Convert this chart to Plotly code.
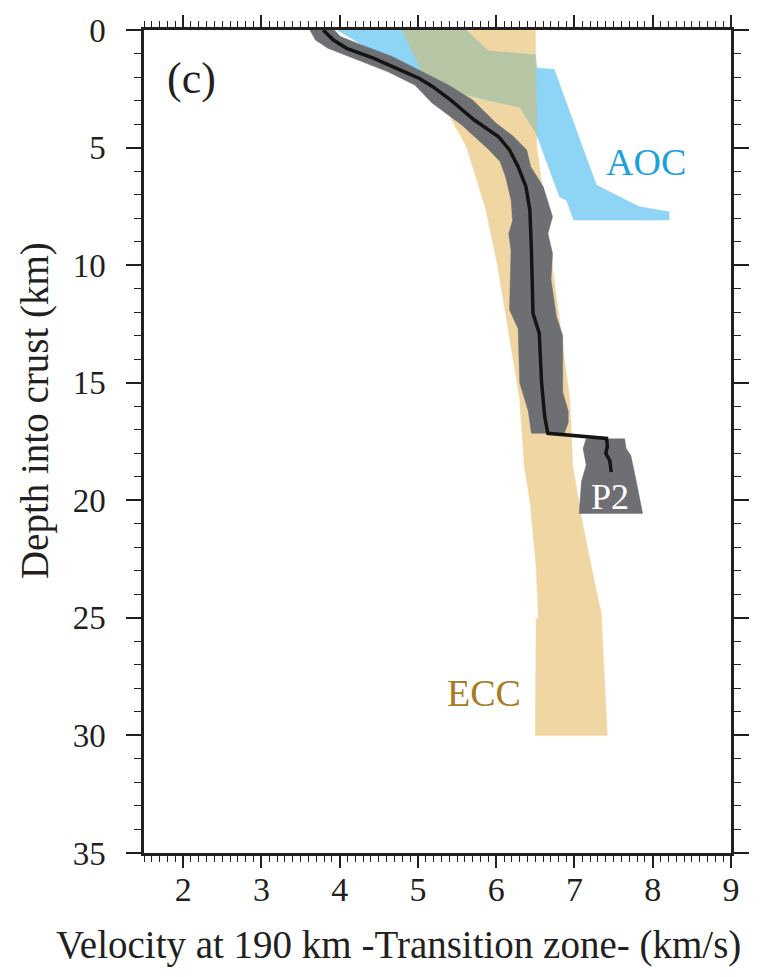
import numpy as np
import plotly.graph_objects as go

# ---------------- data (velocity km/s vs depth km) ----------------
# ECC band edges
ecc_left_depth = [0, 1.91, 3.69, 4.96, 7.66, 10.07, 15.7, 18.6, 20.0, 22.8, 25.0, 25.05, 30.0]
ecc_left_vel = [4.80, 5.07, 5.41, 5.62, 5.87, 6.02, 6.30, 6.36, 6.43, 6.51, 6.54, 6.51, 6.50]
ecc_right_depth = [0, 5.0, 15.7, 18.6, 21.1, 24.5, 24.7, 30.0]
ecc_right_vel = [6.50, 6.52, 6.94, 6.98, 7.11, 7.32, 7.34, 7.42]

# AOC band edges
aoc_left_depth = [0, 0.64, 1.91, 2.62, 2.98, 3.26, 4.39, 7.1, 7.25, 8.08]
aoc_left_vel = [3.97, 4.29, 5.07, 5.47, 5.88, 6.30, 6.51, 6.81, 6.90, 6.99]
aoc_right_depth = [0, 0.92, 1.06, 1.62, 1.67, 6.59, 7.51, 7.73, 8.08]
aoc_right_vel = [5.61, 5.91, 6.50, 6.52, 6.74, 7.28, 7.82, 8.21, 8.21]

# P1 uncertainty band
p1_left_depth = [0, 0.43, 0.78, 1.2, 1.77, 2.34, 3.1, 4.04, 5.1, 5.6, 6.24, 7.23, 8.1, 8.65,
                 9.4, 10.6, 11.9, 12.7, 15.0, 16.2, 17.15]
p1_left_vel = [3.62, 3.69, 3.85, 4.18, 4.61, 4.96, 5.18, 5.56, 5.91, 6.05, 6.12, 6.19, 6.21, 6.16,
               6.19, 6.18, 6.17, 6.28, 6.30, 6.41, 6.45]
p1_right_depth = [0, 0.28, 0.57, 1.13, 1.84, 2.34, 2.98, 3.97, 4.47, 5.1, 5.81, 6.66, 7.94, 8.65,
                  9.5, 10.6, 12.2, 13.0, 15.4, 16.2, 16.7, 17.15]
p1_right_vel = [3.93, 4.01, 4.23, 4.67, 5.10, 5.39, 5.70, 6.00, 6.20, 6.39, 6.44, 6.60, 6.72, 6.66,
                6.72, 6.70, 6.77, 6.85, 6.85, 6.92, 6.92, 6.87]

# P2 block
p2_left_depth = [17.37, 17.8, 18.5, 19.2, 20.56]
p2_left_vel = [7.15, 7.11, 7.15, 7.09, 7.06]
p2_right_depth = [17.37, 17.8, 18.1, 19.2, 20.56]
p2_right_vel = [7.64, 7.66, 7.72, 7.79, 7.87]

# best-fit velocity profile
model_depth = [0, 0.43, 0.78, 1.2, 1.7, 2.06, 2.41, 2.98, 3.83, 4.54, 5.1, 5.81, 6.66, 7.66,
               9.36, 10.6, 12.05, 12.9, 15.0, 16.45, 17.15, 17.37, 17.72, 18.0, 18.3, 18.8]
model_vel = [3.79, 3.92, 4.09, 4.43, 4.77, 5.02, 5.19, 5.42, 5.72, 6.03, 6.17, 6.28, 6.38, 6.43,
             6.45, 6.46, 6.47, 6.55, 6.58, 6.62, 6.66, 7.41, 7.42, 7.40, 7.45, 7.47]

x_ticks = [2, 3, 4, 5, 6, 7, 8, 9]
y_ticks = [0, 5, 10, 15, 20, 25, 30, 35]

# ---------------- helpers ----------------
def band(ld, lv, rd, rv):
    return list(lv) + list(rv)[::-1], list(ld) + list(rd)[::-1]

# overlap of AOC and ECC, computed from the edges
grid = np.linspace(0, max(aoc_left_depth), 1617)
lo = np.maximum(np.interp(grid, aoc_left_depth, aoc_left_vel), np.interp(grid, ecc_left_depth, ecc_left_vel))
hi = np.minimum(np.interp(grid, aoc_right_depth, aoc_right_vel), np.interp(grid, ecc_right_depth, ecc_right_vel))
m = lo < hi
ov_x = np.concatenate([lo[m], hi[m][::-1]])
ov_y = np.concatenate([grid[m], grid[m][::-1]])

C_ECC = "#F0D6A2"
C_AOC = "#8DD4F5"
C_OV = "#B6C5A3"
C_BAND = "#6E6F73"
INK = "#231f20"
FONT = "Liberation Serif"

fig = go.Figure()

def poly(x, y, color):
    fig.add_trace(go.Scatter(x=x, y=y, fill="toself", fillcolor=color, mode="lines",
                             line=dict(color=color, width=0.5), hoverinfo="skip", showlegend=False))

ex, ey = band(ecc_left_depth, ecc_left_vel, ecc_right_depth, ecc_right_vel)
poly(ex, ey, C_ECC)
ax_, ay_ = band(aoc_left_depth, aoc_left_vel, aoc_right_depth, aoc_right_vel)
poly(ax_, ay_, C_AOC)
poly(ov_x, ov_y, C_OV)
bx, by = band(p1_left_depth, p1_left_vel, p1_right_depth, p1_right_vel)
poly(bx, by, C_BAND)
px_, py_ = band(p2_left_depth, p2_left_vel, p2_right_depth, p2_right_vel)
poly(px_, py_, C_BAND)

fig.add_trace(go.Scatter(x=model_vel, y=model_depth, mode="lines",
                         line=dict(color="#141414", width=3.5), showlegend=False))

# labels
fig.add_annotation(x=2.11, y=2.05, text="(c)", showarrow=False, xref="x", yref="y",
                   font=dict(family=FONT, size=44, color=INK))
fig.add_annotation(x=7.91, y=5.6, text="AOC", showarrow=False, xref="x", yref="y",
                   font=dict(family=FONT, size=38, color="#1BA1DC"))
fig.add_annotation(x=5.85, y=28.2, text="ECC", showarrow=False, xref="x", yref="y",
                   font=dict(family=FONT, size=38, color="#A67C1E"))
fig.add_annotation(x=7.46, y=19.85, text="P2", showarrow=False, xref="x", yref="y",
                   font=dict(family=FONT, size=36, color="white"))

# axis titles
fig.add_annotation(x=0.434, y=-0.112, xref="paper", yref="paper", showarrow=False,
                   xanchor="center", yanchor="middle",
                   text="Velocity at 190 km -Transition zone- (km/s)",
                   font=dict(family=FONT, size=39, color=INK))
fig.add_annotation(x=-0.186, y=0.538, xref="paper", yref="paper", showarrow=False, textangle=-90,
                   xanchor="center", yanchor="middle",
                   text="Depth into crust (km)",
                   font=dict(family=FONT, size=39, color=INK))

fig.update_layout(
    width=778, height=977,
    margin=dict(l=144, r=47, t=30, b=124),
    paper_bgcolor="white", plot_bgcolor="white",
    font=dict(family=FONT, color=INK),
    xaxis=dict(range=[1.5, 9], tickmode="array", tickvals=x_ticks, ticktext=[str(v) for v in x_ticks],
               showgrid=False, zeroline=False, showline=True, linecolor=INK, linewidth=2.5,
               mirror="allticks", ticks="outside", ticklen=12, tickwidth=1.5, tickcolor=INK,
               ticklabelstandoff=-8, tickfont=dict(family=FONT, size=34, color=INK),
               minor=dict(dtick=0.1, tick0=1.5, ticklen=6, tickwidth=1, tickcolor=INK, ticks="outside",
                          showgrid=False)),
    yaxis=dict(range=[35, 0], tickmode="array", tickvals=y_ticks, ticktext=[str(v) for v in y_ticks],
               showgrid=False, zeroline=False, showline=True, linecolor=INK, linewidth=2.5,
               mirror="allticks", ticks="outside", ticklen=15, tickwidth=1.5, tickcolor=INK,
               ticklabelstandoff=14, tickfont=dict(family=FONT, size=33, color=INK),
               minor=dict(dtick=1, tick0=0, ticklen=7, tickwidth=1, tickcolor=INK, ticks="outside",
                          showgrid=False)),
)

fig.write_html("out.html")
